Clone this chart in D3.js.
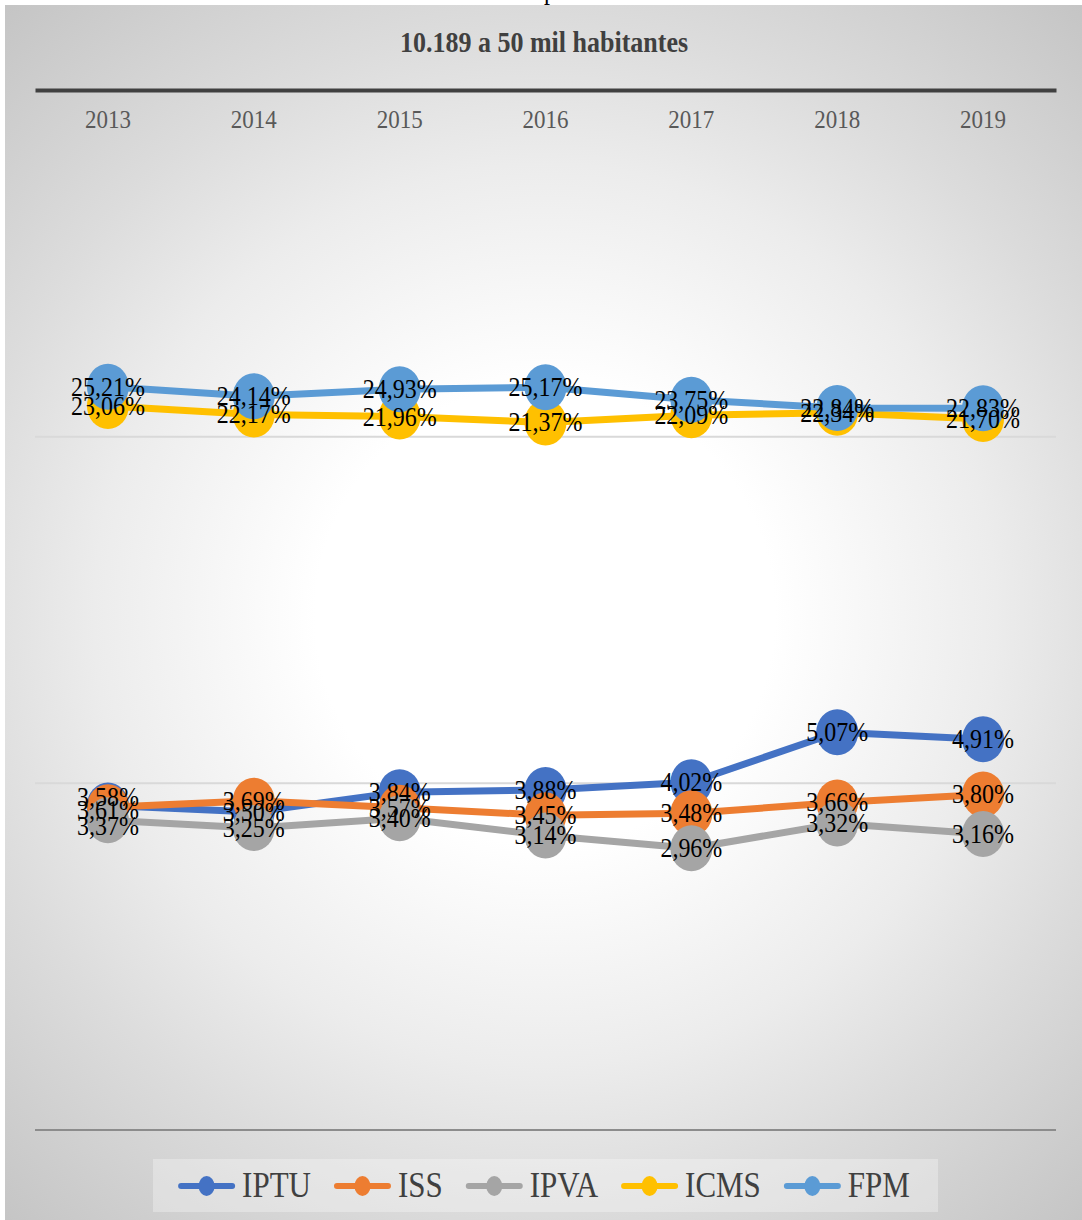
<!DOCTYPE html>
<html>
<head>
<meta charset="utf-8">
<script src="https://cdn.jsdelivr.net/npm/d3@7"></script>
<style>
html,body{margin:0;padding:0;background:#fff;}
svg{display:block;}
</style>
</head>
<body>
<script>
const years = ["2013","2014","2015","2016","2017","2018","2019"];
const seriesNames = ["IPTU","ISS","IPVA","ICMS","FPM"];
const seriesColors = ["#4472C4","#ED7D31","#A5A5A5","#FFC000","#5B9BD5"];
const iptu = [3.61, 3.50, 3.84, 3.88, 4.02, 5.07, 4.91];
const iss  = [3.58, 3.69, 3.57, 3.45, 3.48, 3.66, 3.80];
const ipva = [3.37, 3.25, 3.40, 3.14, 2.96, 3.32, 3.16];
const icms = [23.06, 22.17, 21.96, 21.37, 22.09, 22.34, 21.70];
const fpm  = [25.21, 24.14, 24.93, 25.17, 23.75, 22.84, 22.83];
const gridValues = [0.008, 0.04, 0.2, 1];
const subtitle = "10.189 a 50 mil habitantes";

const FONT = "'Liberation Serif', 'Times New Roman', serif";
const SY = 1.13; // vertical stretch seen in the reference
const seriesValues = [iptu, iss, ipva, icms, fpm];
const W = 1082, H = 1220;
// manually moved data labels in the reference (2013 cluster)
const labelNudge = {"IPTU|2013": 5, "ISS|2013": -10, "IPVA|2013": 6};

const svg = d3.select("body").append("svg").attr("width", W).attr("height", H)
  .attr("font-family", FONT);
const defs = svg.append("defs");
const grad = defs.append("radialGradient").attr("id","bg")
  .attr("gradientUnits","userSpaceOnUse").attr("cx",545).attr("cy",615).attr("r",820);
[[0,"#ffffff"],[0.28,"#ffffff"],[0.55,"#ececec"],[0.72,"#dcdcdc"],[1,"#c4c4c4"]]
  .forEach(([o,c]) => grad.append("stop").attr("offset",o).attr("stop-color",c));

svg.append("rect").attr("width",W).attr("height",H).attr("fill","#fff");
svg.append("rect").attr("x",5).attr("y",5).attr("width",W-5).attr("height",H-5).attr("fill","url(#bg)");

function stext(g, xx, yy, str, size, opts = {}) {
  const t = g.append("text")
    .attr("transform", `translate(${xx},${yy}) scale(1,${SY})`)
    .attr("text-anchor", opts.anchor || "middle")
    .attr("font-family", FONT)
    .attr("font-size", size)
    .attr("fill", opts.fill || "#000")
    .text(str);
  if (opts.bold) t.attr("font-weight", "bold");
  return t;
}

// cut-off main title fragment
stext(svg, 550, -1, "p", 24);
stext(svg, 544, 52, subtitle, 26, {bold: true, fill: "#404040"});

const x = d3.scaleBand().domain(years).range([35,1056]);
const cx = d => x(d) + x.bandwidth()/2;
const y = d3.scaleLog().base(5).domain([0.008,1]).range([1130,90]);

svg.append("g").selectAll("line").data(gridValues.filter(v => v>0.008 && v<1)).join("line")
  .attr("x1",35).attr("x2",1056).attr("y1",d=>y(d)).attr("y2",d=>y(d))
  .attr("stroke","#d9d9d9").attr("stroke-width",2);
svg.append("line").attr("x1",35).attr("x2",1056).attr("y1",y(gridValues[0])).attr("y2",y(gridValues[0]))
  .attr("stroke","#8c8c8c").attr("stroke-width",2);

const axis = svg.append("g").attr("transform",`translate(0,${y(1)})`)
  .call(d3.axisBottom(x).tickSize(0).tickPadding(0));
axis.attr("font-family", FONT);
axis.select(".domain").attr("stroke","#404040").attr("stroke-width",4);
axis.selectAll(".tick text")
  .attr("font-size",23).attr("fill","#595959").attr("font-family",FONT)
  .attr("dy",0).attr("y",0)
  .attr("transform",`translate(0,38) scale(1,${SY})`);

const line = d3.line().x((d,i)=>cx(years[i])).y(d=>y(d/100));
seriesValues.forEach((vals, s) => {
  const g = svg.append("g");
  g.append("path").attr("d", line(vals)).attr("fill","none")
    .attr("stroke", seriesColors[s]).attr("stroke-width",7)
    .attr("stroke-linejoin","round").attr("stroke-linecap","round");
  g.selectAll("ellipse").data(vals).join("ellipse")
    .attr("cx",(d,i)=>cx(years[i])).attr("cy",d=>y(d/100)).attr("rx",21).attr("ry",23)
    .attr("fill",seriesColors[s]);
});
const lblG = svg.append("g");
seriesValues.forEach((vals, s) => {
  vals.forEach((d,i) => {
    const nudge = labelNudge[seriesNames[s] + "|" + years[i]] || 0;
    stext(lblG, cx(years[i]), y(d/100)+9+nudge, d.toFixed(2).replace(".",",") + "%", 24);
  });
});

const lg = svg.append("g");
lg.append("rect").attr("x",153).attr("y",1159).attr("width",785).attr("height",53)
  .attr("fill","#ffffff").attr("fill-opacity",0.3);
const items = lg.selectAll("g.item").data(seriesNames).join("g").attr("class","item");
items.append("line").attr("x1",0).attr("x2",51).attr("y1",0).attr("y2",0)
  .attr("stroke",(d,i)=>seriesColors[i]).attr("stroke-width",6).attr("stroke-linecap","round");
items.append("ellipse").attr("cx",25.5).attr("cy",0).attr("rx",8).attr("ry",10).attr("fill",(d,i)=>seriesColors[i]);
items.append("text").attr("transform",`translate(61,11) scale(1,${SY})`)
  .attr("font-family",FONT).attr("font-size",31).attr("fill","#404040").text(d=>d);
let widths = [];
items.each(function(){ widths.push(d3.select(this).select("text").node().getComputedTextLength()); });
const gap = 26;
const total = widths.reduce((a,w)=>a+61+w,0) + gap*(widths.length-1);
let pos = 545.5 - total/2;
items.each(function(d,i){
  d3.select(this).attr("transform",`translate(${pos},1186)`);
  pos += 61 + widths[i] + gap;
});
</script>
</body>
</html>
